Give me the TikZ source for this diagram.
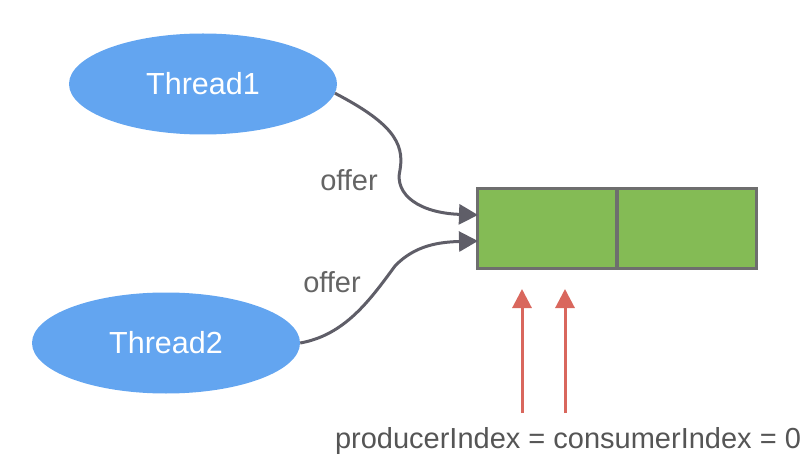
\documentclass[tikz,border=0pt]{standalone}
\usepackage{fontspec}
\setmainfont{Liberation Sans}
\usetikzlibrary{arrows.meta,shapes.geometric}
\definecolor{threadblue}{RGB}{99,165,240}
\definecolor{cellgreen}{RGB}{132,187,85}
\definecolor{cellgray}{RGB}{110,110,110}
\definecolor{arrowgray}{RGB}{95,94,104}
\definecolor{textgray}{RGB}{100,100,100}
\definecolor{idxred}{RGB}{217,103,93}

\begin{document}
\begin{tikzpicture}[x=1pt,y=-1pt,
  thread/.style={ellipse,fill=threadblue,text=white,minimum width=268pt,minimum height=101pt,font=\fontsize{30.5}{36}\selectfont},
  cell/.style={rectangle,draw=cellgray,fill=cellgreen,line width=3pt,minimum width=139pt,minimum height=79pt},
  lbl/.style={text=textgray,font=\fontsize{29}{34}\selectfont},
  offer/.style={line width=3pt,draw=arrowgray,-{Triangle[length=19pt,width=20pt]}},
  idx/.style={line width=3pt,draw=idxred,-{Triangle[length=19pt,width=19pt]}}]
\useasboundingbox (0,0) rectangle (803,457);
\node[thread] (t1) at (203,84) {Thread1};
\node[thread] (t2) at (166,343) {Thread2};

\node[cell] (c0) at (547,228.5) {};
\node[cell] (c1) at (686.5,228.5) {};

\coordinate (in1) at (478,215);
\coordinate (in2) at (478,241);
\draw[offer] (t1.-4) .. controls (390,122) and (405,142) .. (400,170)
  .. controls (394,195) and (420,213) .. (in1);
\draw[offer] (t2.0) .. controls (345,335) and (370,300) .. (395,266)
  .. controls (415,245) and (440,242) .. (in2);

\node[lbl] (o1) at (349,180) {offer};
\node[lbl] (o2) at (332,282) {offer};

% index pointers
\coordinate (p0) at (522,413);
\coordinate (p1) at (565,413);
\coordinate (q0) at (522,289);
\coordinate (q1) at (565,289);
\draw[idx] (p0) -- (q0);
\draw[idx] (p1) -- (q1);
\node[lbl,text=textgray!85!black] (ix) at (568,441) {producerIndex = consumerIndex = 0};
\end{tikzpicture}
\end{document}
